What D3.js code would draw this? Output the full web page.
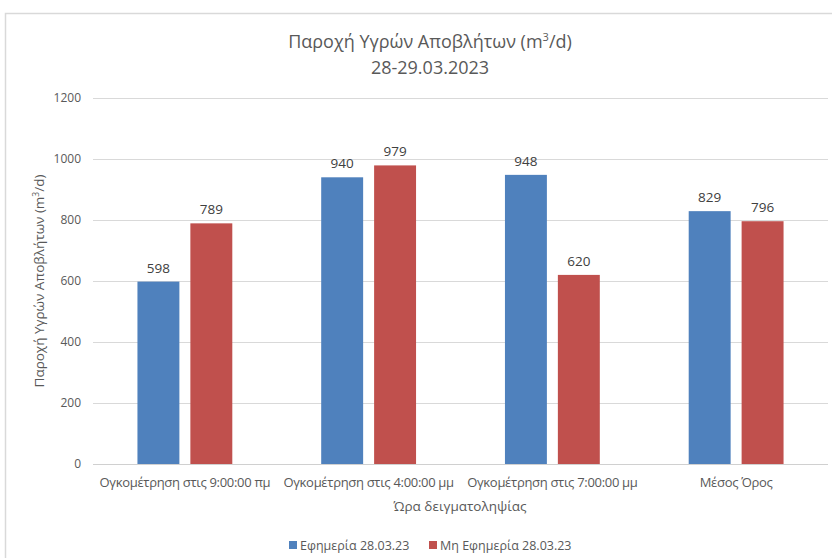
<!DOCTYPE html>
<html lang="el">
<head>
<meta charset="utf-8">
<title>Παροχή Υγρών Αποβλήτων</title>
<script src="https://cdn.jsdelivr.net/npm/d3@7"></script>
<style>
  body { margin: 0; background: #fff; }
  text { font-family: "Open Sans", "Noto Sans", sans-serif; }
</style>
</head>
<body>
<script>
// data
var categories = ["Ογκομέτρηση στις 9:00:00 πμ", "Ογκομέτρηση στις 4:00:00 μμ",
                  "Ογκομέτρηση στις 7:00:00 μμ", "Μέσος Όρος"];
var seriesNames = ["Εφημερία 28.03.23", "Μη Εφημερία 28.03.23"];
var seriesColors = ["#4f81bd", "#c0504d"];
var onDuty = [598, 940, 948, 829];
var offDuty = [789, 979, 620, 796];
var yTicks = [0, 200, 400, 600, 800, 1000, 1200];

var W = 832, H = 558;
// note: "top" is a window global, so plot edges get their own names
var plotL = 93, plotR = 828, plotT = 98, plotB = 464;

var svg = d3.select("body").append("svg")
    .attr("width", W)
    .attr("height", H);

// chart frame (runs off the right and bottom of the picture)
svg.append("rect")
    .attr("x", 5.5).attr("y", 13.5)
    .attr("width", 840).attr("height", 560)
    .attr("fill", "#fff")
    .attr("stroke", "#d9d9d9")
    .attr("stroke-width", 1.5);

var x0 = d3.scaleBand().domain(categories).range([plotL, plotR]);
var x1 = d3.scaleBand().domain(seriesNames).range([0, x0.bandwidth()])
    .paddingOuter(0.84).paddingInner(0.2075);
var y = d3.scaleLinear().domain([0, 1200]).range([plotB, plotT]);

// gridlines
svg.append("g").selectAll("line")
    .data(yTicks)
    .enter().append("line")
    .attr("x1", plotL).attr("x2", plotR)
    .attr("y1", function(d) { return Math.round(y(d)) + 0.5; })
    .attr("y2", function(d) { return Math.round(y(d)) + 0.5; })
    .attr("stroke", function(d) { return d == 0 ? "#d0d0d0" : "#d9d9d9"; })
    .attr("stroke-width", 1);

// y tick labels
var yAxis = svg.append("g")
    .attr("transform", "translate(" + (plotL - 12) + ",0)")
    .call(d3.axisLeft(y).tickValues(yTicks).tickSize(0).tickPadding(0).tickFormat(d3.format("d")));
yAxis.select(".domain").remove();
yAxis.selectAll("text")
    .attr("fill", "#595959")
    .style("font-size", "12px");

// bars
var rows = categories.map(function(c, i) {
  return { cat: c, vals: [onDuty[i], offDuty[i]] };
});

var groups = svg.append("g").selectAll("g")
    .data(rows)
    .enter().append("g")
    .attr("transform", function(d) { return "translate(" + x0(d.cat) + ",0)"; });

groups.selectAll("rect")
    .data(function(d) { return d.vals.map(function(v, j) { return { name: seriesNames[j], v: v, j: j }; }); })
    .enter().append("rect")
    .attr("x", function(d) { return x1(d.name); })
    .attr("width", x1.bandwidth())
    .attr("y", function(d) { return y(d.v); })
    .attr("height", function(d) { return plotB - y(d.v); })
    .attr("fill", function(d) { return seriesColors[d.j]; });

// value labels
groups.selectAll("text")
    .data(function(d) { return d.vals.map(function(v, j) { return { name: seriesNames[j], v: v }; }); })
    .enter().append("text")
    .attr("x", function(d) { return x1(d.name) + x1.bandwidth() / 2; })
    .attr("y", function(d) { return y(d.v) - 9; })
    .attr("text-anchor", "middle")
    .attr("fill", "#404040")
    .style("font-size", "13.5px")
    .text(function(d) { return d.v; });

// category labels
var xAxis = svg.append("g")
    .attr("transform", "translate(0," + (plotB + 14) + ")")
    .call(d3.axisBottom(x0).tickSize(0).tickPadding(0));
xAxis.select(".domain").remove();
xAxis.selectAll("text")
    .attr("fill", "#595959")
    .style("font-size", "13px")
    .style("letter-spacing", "-0.3px");

// title
var title = svg.append("text")
    .attr("x", 430).attr("y", 48)
    .attr("text-anchor", "middle")
    .attr("fill", "#595959")
    .style("font-size", "18px");
title.append("tspan").text("Παροχή  Υγρών Αποβλήτων (m");
title.append("tspan").attr("dy", -7).style("font-size", "11px").text("3");
title.append("tspan").attr("dy", 7).text("/d)");
svg.append("text")
    .attr("x", 430).attr("y", 74)
    .attr("text-anchor", "middle")
    .attr("fill", "#595959")
    .style("font-size", "18px")
    .text("28-29.03.2023");

// axis titles
var yt = svg.append("text")
    .attr("transform", "translate(44," + ((plotT + plotB) / 2) + ") rotate(-90)")
    .attr("text-anchor", "middle")
    .attr("fill", "#595959")
    .style("font-size", "13.5px");
yt.append("tspan").text("Παροχή Υγρών Αποβλήτων (m");
yt.append("tspan").attr("dy", -5).style("font-size", "8.5px").text("3");
yt.append("tspan").attr("dy", 5).text("/d)");

svg.append("text")
    .attr("x", 460).attr("y", 511)
    .attr("text-anchor", "middle")
    .attr("fill", "#595959")
    .style("font-size", "13.5px")
    .text("Ώρα δειγματοληψίας");

// legend
var legendX = [289, 429];
var leg = svg.append("g").selectAll("g")
    .data(seriesNames)
    .enter().append("g")
    .attr("transform", function(d, i) { return "translate(" + legendX[i] + ",541)"; });
leg.append("rect")
    .attr("width", 8).attr("height", 8)
    .attr("fill", function(d, i) { return seriesColors[i]; });
leg.append("text")
    .attr("x", 11).attr("y", 9)
    .attr("fill", "#595959")
    .style("font-size", "12.5px")
    .text(function(d) { return d; });
</script>
</body>
</html>
